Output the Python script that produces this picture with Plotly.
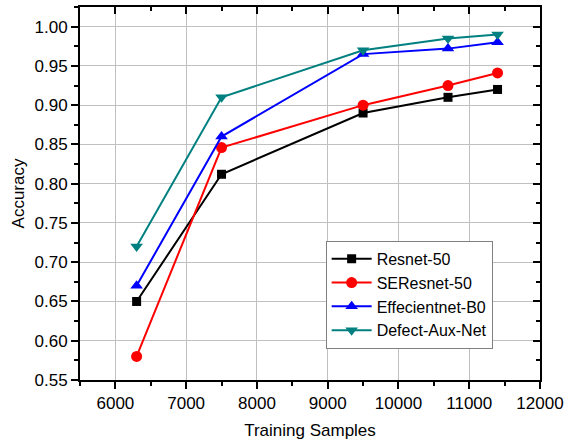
import plotly.graph_objects as go

samples = [6300, 7500, 9500, 10700, 11400]
resnet50 = [0.650, 0.812, 0.890, 0.910, 0.920]
seresnet50 = [0.580, 0.846, 0.900, 0.925, 0.941]
effnet_b0 = [0.670, 0.860, 0.965, 0.972, 0.980]
defect_aux = [0.720, 0.910, 0.970, 0.985, 0.990]

series = [
    ("Resnet-50", resnet50, "#000000", "square", 9),
    ("SEResnet-50", seresnet50, "#ff0000", "circle", 11),
    ("Effecientnet-B0", effnet_b0, "#0000ff", "triangle-up", 11),
    ("Defect-Aux-Net", defect_aux, "#008080", "triangle-down", 11),
]

xr = [5500, 12000]
yr = [0.55, 1.025]
font = "Liberation Sans, Arial, sans-serif"

fig = go.Figure()
for name, vals, col, sym, sz in series:
    fig.add_trace(go.Scatter(
        x=samples, y=vals, name=name, mode="lines+markers",
        line=dict(color=col, width=2),
        marker=dict(symbol=sym, size=sz, color=col),
    ))
# dummy trace for mirrored axes with inside ticks
fig.add_trace(go.Scatter(x=[None], y=[None], xaxis="x2", yaxis="y2",
                         showlegend=False, hoverinfo="skip"))

fig.update_layout(
    width=564, height=443,
    margin=dict(l=80, r=24, t=7, b=63),
    paper_bgcolor="white", plot_bgcolor="white",
    font=dict(family=font, size=17, color="black"),
    xaxis=dict(
        range=xr, dtick=1000, tick0=0, ticks="outside", ticklen=7, tickwidth=2,
        tickcolor="black", showline=True, linewidth=2, linecolor="black",
        showgrid=True, gridcolor="#c0c0c0", gridwidth=1, zeroline=False,
        tickformat="d", automargin=False,
        minor=dict(dtick=500, tick0=0, ticks="outside", ticklen=4, tickwidth=2,
                   tickcolor="black", showgrid=False),
        title=dict(text="Training Samples", standoff=12, font=dict(size=17)),
        tickfont=dict(size=17),
    ),
    yaxis=dict(
        range=yr, dtick=0.05, tick0=0, ticks="outside", ticklen=7, tickwidth=2,
        tickcolor="black", showline=True, linewidth=2, linecolor="black",
        showgrid=True, gridcolor="#c0c0c0", gridwidth=1, zeroline=False,
        tickformat=".2f", automargin=False,
        minor=dict(dtick=0.025, tick0=0, ticks="outside", ticklen=4, tickwidth=2,
                   tickcolor="black", showgrid=False),
        title=dict(text="Accuracy", standoff=6, font=dict(size=17)),
        tickfont=dict(size=17),
    ),
    xaxis2=dict(
        range=xr, overlaying="x", side="top", anchor="y2", dtick=1000, tick0=0,
        ticks="inside", ticklen=7, tickwidth=2, tickcolor="black",
        showticklabels=False, showgrid=False, zeroline=False, automargin=False,
        showline=True, linewidth=2, linecolor="black",
        minor=dict(dtick=500, tick0=0, ticks="inside", ticklen=4, tickwidth=2,
                   tickcolor="black", showgrid=False),
    ),
    yaxis2=dict(
        range=yr, overlaying="y", side="right", anchor="x2", dtick=0.05, tick0=0,
        ticks="inside", ticklen=7, tickwidth=2, tickcolor="black",
        showticklabels=False, showgrid=False, zeroline=False, automargin=False,
        showline=True, linewidth=2, linecolor="black",
        minor=dict(dtick=0.025, tick0=0, ticks="inside", ticklen=4, tickwidth=2,
                   tickcolor="black", showgrid=False),
    ),
    legend=dict(
        x=0.534, y=0.373, xanchor="left", yanchor="top",
        bgcolor="white", bordercolor="#808080", borderwidth=1,
        font=dict(size=16), itemwidth=40, tracegroupgap=0,
    ),
    showlegend=True,
)

fig.write_html("out.html")
